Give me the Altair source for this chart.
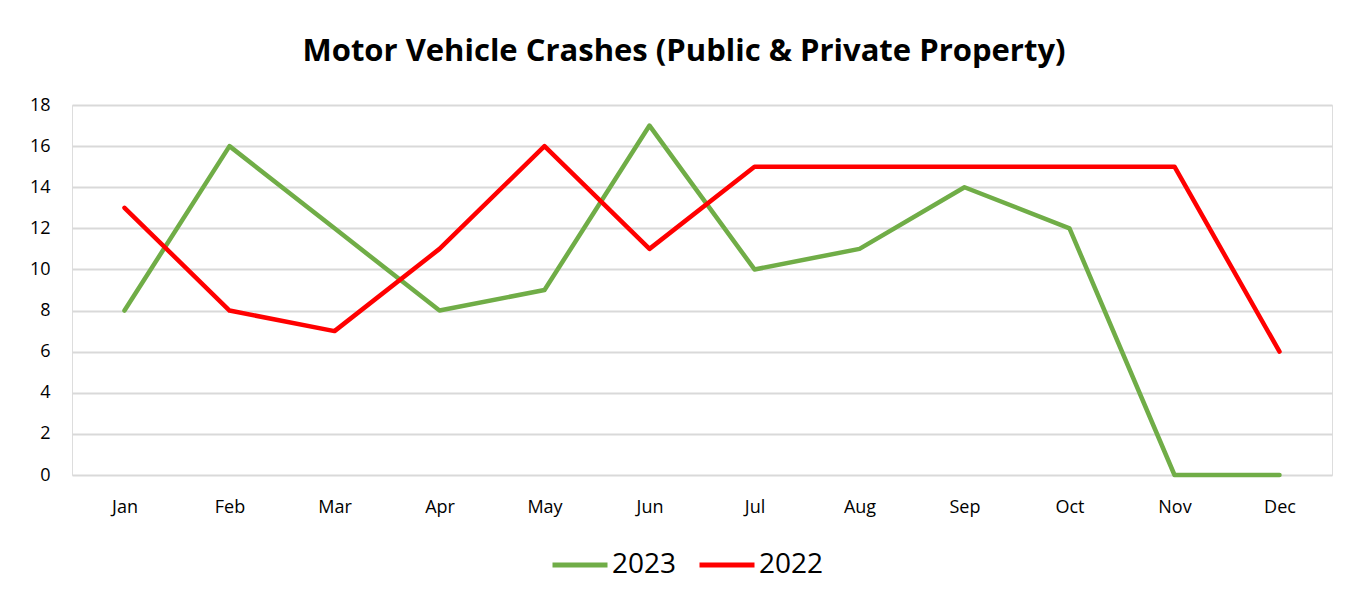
import altair as alt
import pandas as pd

months = ["Jan", "Feb", "Mar", "Apr", "May", "Jun", "Jul", "Aug", "Sep", "Oct", "Nov", "Dec"]
crashes_2023 = [8, 16, 12, 8, 9, 17, 10, 11, 14, 12, 0, 0]
crashes_2022 = [13, 8, 7, 11, 16, 11, 15, 15, 15, 15, 15, 6]
series = ["2023", "2022"]
colors = ["#70ad47", "#ff0000"]

rows = []
for name, vals in zip(series, [crashes_2023, crashes_2022]):
    for m, v in zip(months, vals):
        rows.append({"Month": m, "Crashes": v, "Year": name})
df = pd.DataFrame(rows)

FONT = "Open Sans"

chart = alt.Chart(df).mark_line(strokeWidth=4.5, strokeCap="round", strokeJoin="round").encode(
    x=alt.X("Month:N", sort=months, scale=alt.Scale(type="point", padding=0.5),
            axis=alt.Axis(title=None, labelAngle=0, ticks=False, domain=False, grid=False,
                          labelFontSize=18, labelPadding=23, labelColor="#000000", labelFont=FONT)),
    y=alt.Y("Crashes:Q", scale=alt.Scale(domain=[0, 18], nice=False),
            axis=alt.Axis(title=None, values=list(range(0, 19, 2)), ticks=False, domain=False,
                          gridColor="#d9d9d9", gridWidth=2, labelFontSize=18, labelPadding=22,
                          labelColor="#000000", labelFont=FONT)),
    color=alt.Color("Year:N", sort=series, scale=alt.Scale(domain=series, range=colors),
                    legend=alt.Legend(title=None, orient="none", legendX=478, legendY=430,
                                      direction="horizontal",
                                      symbolType="stroke", symbolSize=3025, symbolStrokeWidth=5,
                                      labelFontSize=28, labelFont=FONT, labelColor="#000000",
                                      columnPadding=12, labelOffset=2)),
).properties(
    width=1260, height=370,
    title=alt.Title("Motor Vehicle Crashes (Public & Private Property)", fontSize=31,
                    font=FONT, fontWeight="bold", color="#000000", offset=28, anchor="middle",
                    dx=-18),
    autosize=alt.AutoSizeParams(type="none"),
    padding={"left": 64, "top": 97, "right": 17, "bottom": 120},
).configure_view(stroke=None).configure(background="#ffffff")

chart.save("out.html", embed_options={"renderer": "svg", "actions": False})
